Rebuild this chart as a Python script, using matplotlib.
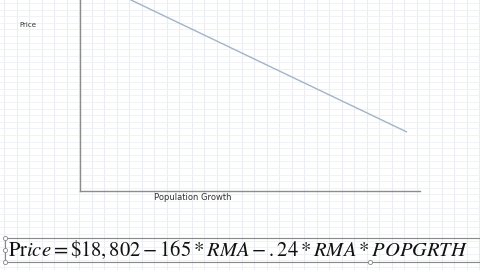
import matplotlib.pyplot as plt, numpy as np

# Chart values (no tick labels in the source, so relative units)
pop_growth = [0.15, 0.96]
price = [1.0, 0.31]
equation = r'$\mathrm{Pr}ice = \$18,802 - 165 * RMA - .24 * RMA * POPGRTH$'

plt.rcParams['mathtext.fontset'] = 'stix'
fig = plt.figure(figsize=(4.8, 2.7), dpi=100)
W, H = 480, 270

# Spreadsheet grid behind everything
bg = fig.add_axes([0, 0, 1, 1])
bg.set_xlim(0, W)
bg.set_ylim(H, 0)
bg.axis('off')
for gx in np.arange(4, W, 12.5):
	bg.axvline(gx, color='#ebedf2', lw=0.8, zorder=0)
for gy in np.arange(3, H, 6.6):
	bg.axhline(gy, color='#eff0f4', lw=0.6, zorder=0)

# Chart area
ax = fig.add_axes([80 / W, 1 - 191 / H, 340 / W, 191 / H])
ax.patch.set_alpha(0)
ax.plot(pop_growth, price, color='#a3b4c8', lw=1.0)
ax.set_xlim(0, 1)
ax.set_ylim(0, 1)
ax.set_xticks([])
ax.set_yticks([])
for s in ['top', 'right']:
	ax.spines[s].set_visible(False)
for s in ['left', 'bottom']:
	ax.spines[s].set_color('#8c8c8c')
	ax.spines[s].set_linewidth(1.0)

bg.text(28, 25, 'Price', fontsize=5, ha='center', va='center', color='#333333')
bg.text(193, 198, 'Population Growth', fontsize=6, ha='center', va='center', color='#333333')

# Equation object
bg.plot([5, 480, 480, 5, 5], [238, 238, 262, 262, 238], color='#888888', lw=0.8)
bg.text(8, 250, equation, fontsize=14.8, ha='left', va='center', color='#111111')
for hx, hy in [(5, 238), (5, 250), (5, 262), (370, 262)]:
	bg.plot(hx, hy, 'o', ms=3, mfc='white', mec='#888888', mew=0.6)

fig.savefig('out.png', dpi=100)
